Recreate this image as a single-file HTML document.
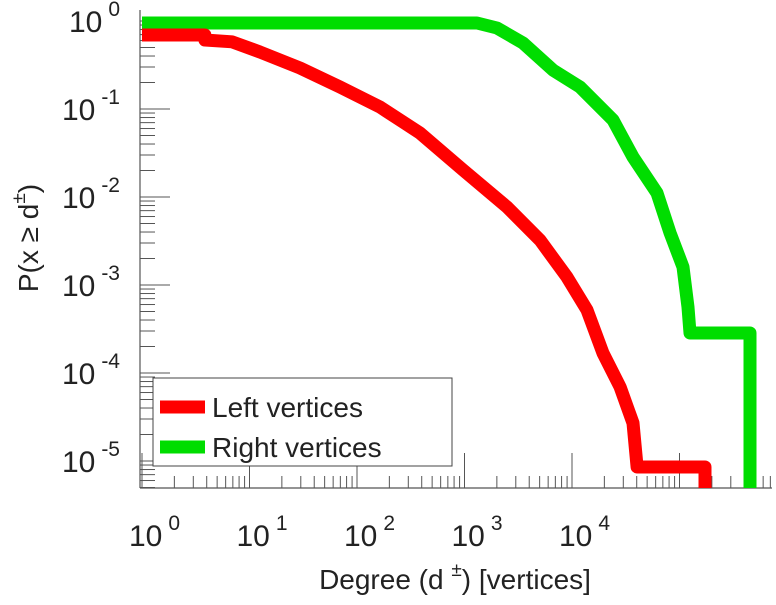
<!DOCTYPE html>
<html><head><meta charset="utf-8"><style>
body{margin:0;background:#fff;}
svg text{font-family:"Liberation Sans",sans-serif;fill:#222;}
</style></head><body>
<svg width="776" height="600" viewBox="0 0 776 600" xmlns="http://www.w3.org/2000/svg">
<defs><clipPath id="pc"><rect x="140" y="5" width="632" height="483"/></clipPath></defs>
<g id="axes"></g>
<g id="series" clip-path="url(#pc)"></g>
<text transform="translate(38,238) rotate(-90)" text-anchor="middle" font-size="28">P(x ≥ d<tspan dy="-13" font-size="19">±</tspan><tspan dy="13">)</tspan></text>
<text x="455" y="589" text-anchor="middle" font-size="28">Degree (d  <tspan dy="-13" font-size="19">±</tspan><tspan dy="13">) [vertices]</tspan></text>
<g>
<rect x="153" y="378" width="299" height="88" fill="#fff" stroke="#444" stroke-width="1"/>
<line x1="160" y1="407" x2="205" y2="407" stroke="#f00" stroke-width="13"/>
<text x="212" y="417" font-size="28">Left vertices</text>
<line x1="160" y1="447" x2="205" y2="447" stroke="#0d0" stroke-width="13"/>
<text x="212" y="457" font-size="28">Right vertices</text>
</g>
</svg>
<script>
const xTickExps=[0,1,2,3,4];
const yTickExps=[0,-1,-2,-3,-4,-5];
const leftDeg=[1,3.85,3.85,6.87,12.5,29.5,69.5,164,385,968,2485,5040,8980,13800,19400,28000,36900,40300,172600,172600];
const leftP=[0.693,0.693,0.608,0.58,0.444,0.292,0.178,0.105,0.0533,0.0203,0.0077,0.00324,0.00123,0.00052,0.000169,0.0000693,0.000027,0.00000855,0.00000855,0.000003];
const rightDeg=[1,1306,2005,3500,6650,11860,24050,36900,61800,81700,107900,120000,125300,453000,453000];
const rightP=[0.95,0.95,0.833,0.562,0.277,0.178,0.075,0.0285,0.0111,0.0039,0.0016,0.00056,0.000285,0.000285,0.000003];
const NS="http://www.w3.org/2000/svg";
function xs(v){return 142+107.5*Math.log10(v);}
function ys(v){return 21-88*Math.log10(v);}
function mk(tag,attrs,parent){const e=document.createElementNS(NS,tag);for(const k in attrs)e.setAttribute(k,attrs[k]);parent.appendChild(e);return e;}
const ax=document.getElementById('axes');
const l1=mk('line',{x1:140,y1:10,x2:140,y2:488,stroke:'#555','stroke-width':1.2},ax);


const l2=mk('line',{x1:140,y1:488,x2:772,y2:488,stroke:'#555','stroke-width':1.2},ax);


for(let e=-1;e<=5;e++){for(let m=1;m<10;m++){const x=xs(m*Math.pow(10,e));if(x<140||x>772)continue;
const t=mk('line',{x1:x,y1:488,x2:x,y2:488-(m==1?35:12),stroke:'#555','stroke-width':1},ax);

}}
for(let e=-6;e<=0;e++){for(let m=1;m<10;m++){const y=ys(m*Math.pow(10,e));if(y<8||y>488)continue;
const t=mk('line',{x1:140,y1:y,x2:140+(m==1?30:15),y2:y,stroke:'#555','stroke-width':1},ax);

}}
xTickExps.forEach(k=>{const x=xs(Math.pow(10,k));
const t=mk('text',{x:x-13,y:546,'font-size':30},ax);


t.innerHTML='10<tspan dy="-16" font-size="21" dx="6">'+k+'</tspan>';});
yTickExps.forEach(k=>{const y=ys(Math.pow(10,k));
const t=mk('text',{x:120,y:y+11,'font-size':30,'text-anchor':'end'},ax);


t.innerHTML='10<tspan dy="-16" font-size="21" dx="6">'+k+'</tspan>';});
const sg=document.getElementById('series');
function path(d,p,col,name){const pts=d.map((v,i)=>xs(v).toFixed(1)+','+ys(p[i]).toFixed(1));
const e=mk('polyline',{points:pts.join(' '),fill:'none',stroke:col,'stroke-width':13,'stroke-linejoin':'round'},sg);

}
path(rightDeg,rightP,'#0d0','right-vertices-line');
path(leftDeg,leftP,'#f00','left-vertices-line');
</script>
</body></html>
